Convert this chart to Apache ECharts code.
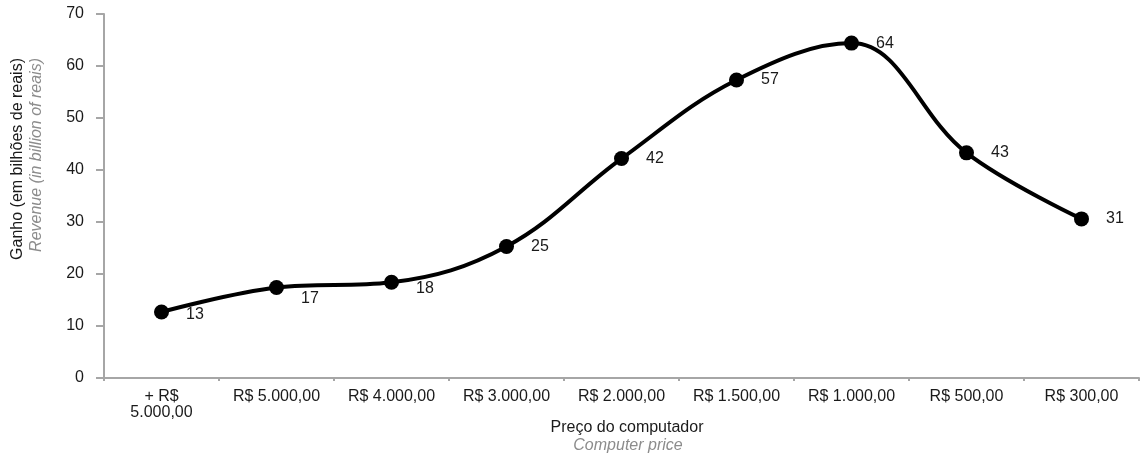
<!DOCTYPE html>
<html>
<head>
<meta charset="utf-8">
<script src="https://cdn.jsdelivr.net/npm/echarts@6/dist/echarts.min.js"></script>
<style>
html,body{margin:0;padding:0;background:#fff;}
#chart{width:1142px;height:457px;}
</style>
</head>
<body>
<div id="chart"></div>
<script>
const categories = ['+ R$\n5.000,00', 'R$ 5.000,00', 'R$ 4.000,00', 'R$ 3.000,00', 'R$ 2.000,00', 'R$ 1.500,00', 'R$ 1.000,00', 'R$ 500,00', 'R$ 300,00'];
const revenue = [12.7, 17.4, 18.4, 25.3, 42.2, 57.3, 64.4, 43.3, 30.6];
const yTicks = { min: 0, max: 70, interval: 10 };
const yTitlePt = 'Ganho (em bilhões de reais)';
const yTitleEn = 'Revenue (in billion of reais)';
const xTitlePt = 'Preço do computador';
const xTitleEn = 'Computer price';

const FONT = '"Liberation Sans", Arial, sans-serif';
const FS = 16;
const chart = echarts.init(document.getElementById('chart'), null, { renderer: 'canvas' });
chart.setOption({
  animation: false,
  backgroundColor: '#fff',
  grid: { left: 104, right: 3, top: 14, bottom: 79, containLabel: false },
  xAxis: {
    type: 'category',
    data: categories,
    boundaryGap: true,
    axisLine: { lineStyle: { color: '#a6a6a6', width: 2 } },
    axisTick: { show: true, length: 3, lineStyle: { color: '#a6a6a6', width: 2 } },
    axisLabel: { color: '#1a1a1a', fontFamily: FONT, fontSize: FS, margin: 11, lineHeight: 16, interval: 0 }
  },
  yAxis: {
    type: 'value',
    min: yTicks.min, max: yTicks.max, interval: yTicks.interval,
    axisLine: { show: true, lineStyle: { color: '#a6a6a6', width: 2 } },
    axisTick: { show: true, length: 8, lineStyle: { color: '#a6a6a6', width: 2 } },
    splitLine: { show: false },
    axisLabel: { color: '#1a1a1a', fontFamily: FONT, fontSize: FS, margin: 20 }
  },
  graphic: [
    { type: 'text', x: 18, y: 58, rotation: Math.PI / 2,
      style: { text: yTitlePt, fill: '#1a1a1a', font: FS + 'px ' + FONT, align: 'right', verticalAlign: 'middle' } },
    { type: 'text', x: 37, y: 58, rotation: Math.PI / 2,
      style: { text: yTitleEn, fill: '#8c8c8c', font: 'italic ' + FS + 'px ' + FONT, align: 'right', verticalAlign: 'middle' } },
    { type: 'text', x: 627, y: 428,
      style: { text: xTitlePt, fill: '#1a1a1a', font: FS + 'px ' + FONT, align: 'center', verticalAlign: 'middle' } },
    { type: 'text', x: 628, y: 446,
      style: { text: xTitleEn, fill: '#8c8c8c', font: 'italic ' + FS + 'px ' + FONT, align: 'center', verticalAlign: 'middle' } }
  ],
  series: [{
    type: 'line',
    data: revenue,
    smooth: 0.38,
    symbol: 'circle',
    symbolSize: 15,
    itemStyle: { color: '#000' },
    lineStyle: { color: '#000', width: 4 },
    label: {
      show: true, position: 'right', distance: 17,
      color: '#1a1a1a', fontFamily: FONT, fontSize: FS,
      formatter: p => String(Math.round(p.value))
    },
    labelLayout: p => (p.dataIndex === 0 ? { dy: 3 } : p.dataIndex === 1 ? { dy: 11 } : p.dataIndex === 2 ? { dy: 6 } : {})
  }]
});
</script>
</body>
</html>
